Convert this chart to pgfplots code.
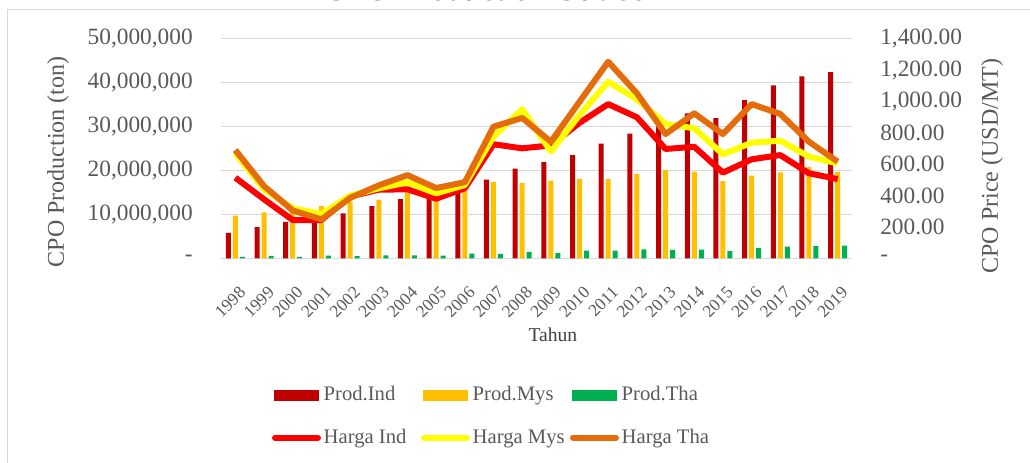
\documentclass[border=0pt]{standalone}
\usepackage{fontspec}
\setmainfont{Liberation Serif}
\usepackage{pgfplots}
\usepackage{pgfplotstable}
\pgfplotsset{compat=1.18}
\definecolor{cInd}{HTML}{C00000}
\definecolor{cMys}{HTML}{FFC000}
\definecolor{cTha}{HTML}{00B050}
\definecolor{hInd}{HTML}{FF0000}
\definecolor{hMys}{HTML}{FFFF00}
\definecolor{hTha}{HTML}{E46C0A}
\definecolor{tgray}{HTML}{595959}
\definecolor{ggray}{HTML}{D9D9D9}
\pgfplotsset{
  barleg/.style={legend image code/.code={\fill[##1,draw=none] (0pt,-4.125pt) rectangle (33.75pt,4.125pt);}},
  lineleg/.style={legend image code/.code={\draw[##1,line cap=round] (0.75pt,0pt) -- (33pt,0pt);}},
}
\newcommand{\legtxt}[1]{\makebox[71pt][l]{#1}}
\pgfplotstableread{
x ind mys tha pind pmys ptha
0 5800000 9700000 300000 514 669 690
1 7100000 10450000 550000 376 440 460
2 8300000 10800000 350000 244 319 305
3 8500000 11900000 600000 244 282 248
4 10200000 12900000 480000 395 399 385
5 11900000 13300000 690000 437 446 465
6 13500000 15200000 690000 440 484 530
7 14100000 14900000 580000 380 414 448
8 15900000 15300000 1060000 446 467 485
9 17900000 17400000 990000 727 775 839
10 20400000 17150000 1450000 701 950 895
11 21900000 17700000 1170000 720 680 743
12 23500000 18100000 1750000 864 913 998
13 26100000 18100000 1750000 983 1126 1253
14 28400000 19200000 2050000 899 1013 1052
15 30000000 20050000 1900000 697 856 792
16 33000000 19750000 1960000 711 829 924
17 31900000 17550000 1660000 546 663 792
18 36000000 18800000 2380000 631 737 983
19 39400000 19550000 2670000 658 750 920
20 41400000 20800000 2760000 542 648 743
21 42400000 19650000 2900000 505 605 616
}\datatable
\begin{document}
\begin{tikzpicture}
% chart border
\draw[ggray, line width=0.75pt] (5.25pt,-10pt) -- (5.25pt,339.75pt) -- (790pt,339.75pt);
\node[anchor=base, font=\bfseries\fontsize{23.5}{27}\selectfont] at (370.5pt,347pt) {CPO Production Outlook};
\begin{axis}[
  at={(165.75pt,153.525pt)}, anchor=south west,
  scale only axis, width=473.25pt, height=164.7pt,
  xmin=-0.5, xmax=21.5, ymin=0, ymax=50000000,
  ybar, bar width=3.75pt,
  axis line style={draw=none}, tick style={draw=none},
  ymajorgrids, grid style={ggray, line width=0.75pt},
  scaled y ticks=false,
  ytick={0,10000000,20000000,30000000,40000000,50000000},
  yticklabels={{-\hspace{9pt}},{10,000,000},{20,000,000},{30,000,000},{40,000,000},{50,000,000}},
  yticklabel style={font=\fontsize{17.5}{20}\selectfont, text=tgray, anchor=east, inner sep=0pt, xshift=-21pt},
  xtick={0,1,2,3,4,5,6,7,8,9,10,11,12,13,14,15,16,17,18,19,20,21},
  xticklabels={1998,1999,2000,2001,2002,2003,2004,2005,2006,2007,2008,2009,2010,2011,2012,2013,2014,2015,2016,2017,2018,2019},
  xticklabel style={font=\fontsize{13}{15}\selectfont, text=tgray, inner sep=0pt, anchor=north east, xshift=2.25pt, yshift=-16pt, rotate=45},
  xlabel={Tahun},
  xlabel style={at={(axis description cs:0.526,-0.349)}, anchor=center, font=\fontsize{14.7}{17}\selectfont, text=black!75},
  ylabel={CPO Production (ton)},
  ylabel style={at={(axis description cs:-0.258,0.4385)}, anchor=center, font=\fontsize{18}{21}\selectfont, text=tgray},
]
\addplot[fill=cInd, draw=none, bar shift=-5.25pt] table[x=x, y=ind] {\datatable};
\addplot[fill=cMys, draw=none, bar shift=0pt] table[x=x, y=mys] {\datatable};
\addplot[fill=cTha, draw=none, bar shift=5.25pt] table[x=x, y=tha] {\datatable};
\end{axis}
\begin{axis}[
  at={(165.75pt,153.525pt)}, anchor=south west,
  scale only axis, width=473.25pt, height=164.7pt,
  xmin=-0.5, xmax=21.5, ymin=0, ymax=1400,
  axis line style={draw=none}, tick style={draw=none},
  xtick=\empty,
  ytick={0,200,400,600,800,1000,1200,1400},
  yticklabels={{-},{200.00},{400.00},{600.00},{800.00},{1,000.00},{1,200.00},{1,400.00}},
  yticklabel pos=right,
  yticklabel style={font=\fontsize{17.5}{20}\selectfont, text=tgray, anchor=west, inner sep=0pt, xshift=21pt},
  ylabel={CPO Price (USD/MT)},
  ylabel style={at={(axis description cs:1.2219,0.420)}, anchor=center, font=\fontsize{18}{21}\selectfont, text=tgray},
  legend columns=3,
  legend cell align=left,
  legend style={at={(axis description cs:0.0808,-0.568)}, anchor=north west, draw=none, fill=none,
    inner sep=0pt, outer sep=0pt, row sep=14pt, font=\fontsize{15.5}{18}\selectfont, text=tgray,
    nodes={text height=11pt, text depth=3pt, inner sep=2pt}},
]
\addlegendimage{barleg, fill=cInd}\addlegendentry{\legtxt{Prod.Ind}}
\addlegendimage{barleg, fill=cMys}\addlegendentry{\legtxt{Prod.Mys}}
\addlegendimage{barleg, fill=cTha}\addlegendentry{\legtxt{Prod.Tha}}
\addplot[hInd, line width=4.5pt, line join=round, mark=none, lineleg] table[x=x, y=pind] {\datatable};
\addlegendentry{\legtxt{Harga Ind}}
\addplot[hMys, line width=4.5pt, line join=round, mark=none, lineleg] table[x=x, y=pmys] {\datatable};
\addlegendentry{\legtxt{Harga Mys}}
\addplot[hTha, line width=4.5pt, line join=round, mark=none, lineleg] table[x=x, y=ptha] {\datatable};
\addlegendentry{\legtxt{Harga Tha}}
\end{axis}
\pgfresetboundingbox
\useasboundingbox (0pt,0pt) rectangle (772.5pt,347.25pt);
\end{tikzpicture}
\end{document}
